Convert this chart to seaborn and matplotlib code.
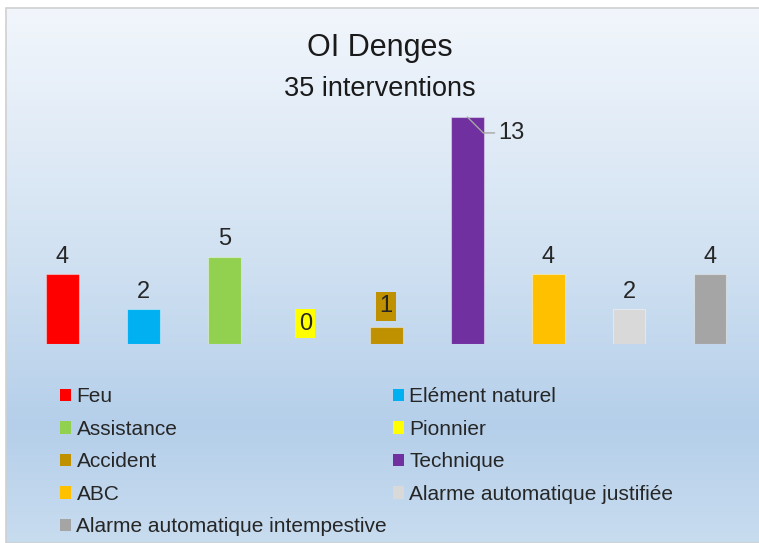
import numpy as np
import seaborn as sns
import matplotlib.pyplot as plt
from matplotlib.patches import Patch, Rectangle
from matplotlib.colors import LinearSegmentedColormap

# donnees du graphique
categories = ['Feu', 'Elément naturel', 'Assistance', 'Pionnier', 'Accident',
              'Technique', 'ABC', 'Alarme automatique justifiée',
              'Alarme automatique intempestive']
valeurs = [4, 2, 5, 0, 1, 13, 4, 2, 4]
couleurs = ['#FF0000', '#00B0F0', '#92D050', '#FFFF00', '#BF9000',
            '#7030A0', '#FFC000', '#D9D9D9', '#A5A5A5']
titre = 'OI Denges'
sous_titre = '35 interventions'

sns.set_style('white')
plt.rcParams['font.family'] = ['Liberation Sans', 'DejaVu Sans']

W, H = 759, 543
fig = plt.figure(figsize=(W / 100, H / 100), dpi=100)
fig.patch.set_facecolor('white')

#fond en degrade
bg = fig.add_axes([6 / W, 0, 1 - 6 / W, 1 - 8 / H], zorder=-10)
cmap = LinearSegmentedColormap.from_list('fond', [(0, '#F2F6FC'), (0.45, '#D2E2F2'),
                                                  (0.78, '#B5CFEA'), (1, '#C8DCEF')])
bg.imshow(np.linspace(0, 1, 256).reshape(-1, 1), cmap=cmap, aspect='auto',
          extent=[0, 1, 0, 1], origin='upper')
bg.add_patch(Rectangle((0, 0), 1.2, 1, transform=bg.transAxes, fill=False,
                       edgecolor='#D0D0D0', lw=1.2, clip_on=False))
bg.set_axis_off()

#graphe
ax = fig.add_axes([21.8 / W, 1 - 344 / H, 729 / W, 244.5 / H])
ax.patch.set_alpha(0)
sns.barplot(x=categories, y=valeurs, hue=categories, palette=couleurs, width=0.4,
            legend=False, ax=ax, edgecolor='#FFFFFF66', linewidth=0.8, saturation=1)
ax.set_xlim(-0.5, len(categories) - 0.5)
ax.set_ylim(0, 14)
ax.set_axis_off()

#etiquettes de valeurs
for i, v in enumerate(valeurs):
    if v == max(valeurs):
        ax.annotate(str(v), xy=(i, v), xytext=(22, -11.5), textcoords='offset points',
                    ha='left', va='center', fontsize=17, color='#262626',
                    arrowprops=dict(arrowstyle='-', color='#A6A6A6', lw=1, shrinkA=0, shrinkB=0,
                                    connectionstyle='angle,angleA=0,angleB=-45,rad=0'))
    elif v <= 1:
        ax.annotate(str(v), xy=(i, v), xytext=(0, 14.5), textcoords='offset points',
                    ha='center', va='center', fontsize=17, color='#262626',
                    bbox=dict(boxstyle='square,pad=0.15', facecolor=couleurs[i], edgecolor='none'))
    else:
        ax.annotate(str(v), xy=(i, v), xytext=(0, 12.5), textcoords='offset points',
                    ha='center', va='center', fontsize=17, color='#262626')

fig.text(0.5, 1 - 56 / H, titre, ha='center', va='baseline', fontsize=22, color='#1A1A1A')
fig.text(0.5, 1 - 96 / H, sous_titre, ha='center', va='baseline', fontsize=19.5, color='#1A1A1A')

#legende en deux colonnes
handles = [Patch(facecolor=c, edgecolor='none') for c in couleurs]
legend_kw = dict(frameon=False, loc='upper left', fontsize=15, handlelength=0.53,
                 handleheight=0.53, handletextpad=0.26, labelspacing=0.645,
                 borderpad=0, borderaxespad=0, labelcolor='#262626')
col1 = [0, 2, 4, 6, 8]
col2 = [1, 3, 5, 7]
leg1 = fig.legend([handles[i] for i in col1], [categories[i] for i in col1],
                  bbox_to_anchor=(60 / W, 1 - 387.5 / H), **legend_kw)
leg2 = fig.legend([handles[i] for i in col2], [categories[i] for i in col2],
                  bbox_to_anchor=(393 / W, 1 - 387.5 / H), **legend_kw)

plt.savefig('out.png', dpi=100)
